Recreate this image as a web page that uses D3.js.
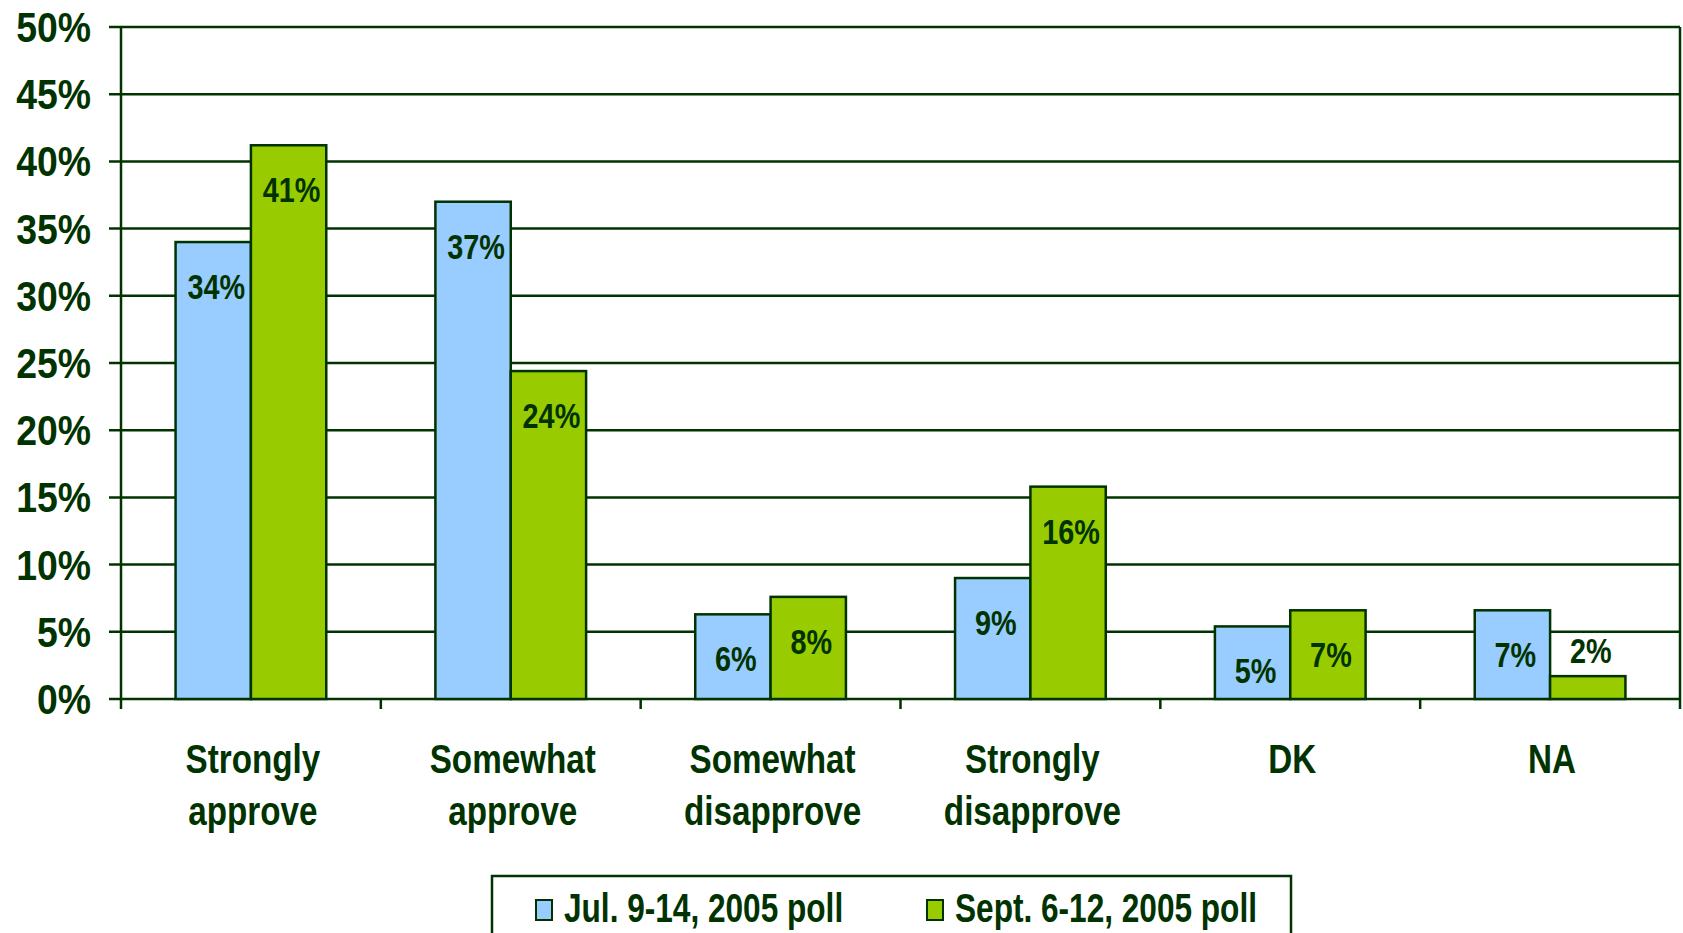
<!DOCTYPE html>
<html><head><meta charset="utf-8">
<script src="https://cdn.jsdelivr.net/npm/d3@7"></script>
<style>
html,body{margin:0;padding:0;background:#fff;}
svg{display:block;}
text{font-family:"Liberation Sans Narrow","Arial Narrow","Liberation Sans",sans-serif;font-weight:bold;fill:#003300;}
</style></head>
<body>
<svg id="chart" width="1683" height="933"></svg>
<script>
const categories = ["Strongly approve","Somewhat approve","Somewhat disapprove","Strongly disapprove","DK","NA"];
const seriesNames = ["Jul. 9-14, 2005 poll","Sept. 6-12, 2005 poll"];
const julValues = [34, 37, 6.3, 9, 5.4, 6.6];
const septValues = [41.2, 24.4, 7.6, 15.8, 6.6, 1.7];
const yTicks = [0,5,10,15,20,25,30,35,40,45,50];
const colors = ["#99CCFF","#99CC00"];

(function(){
const ink = "#003300";
const svg = d3.select("#chart");
const pl = 121, pr = 1680, pt = 27, pb = 699;

// condensed text helper
function ctext(parent, x, y, str, size, sx, anchor){
  const g = parent.append("g").attr("transform", `translate(${x},${y})`);
  g.append("text").attr("transform", `scale(${sx},1)`)
    .attr("text-anchor", anchor || "middle")
    .attr("font-size", size).text(str);
  return g;
}

const x = d3.scaleBand().domain(categories).range([pl,pr]).padding(0);
const y = d3.scaleLinear().domain([0,50]).range([pb, pt]);
const barW = x.bandwidth()*0.29;
const xs = d3.scaleBand().domain([0,1]).range([0, barW*2]);

svg.append("g").selectAll("line").data(yTicks).join("line")
  .attr("x1", pl-12).attr("x2", pr)
  .attr("y1", d=>y(d)).attr("y2", d=>y(d))
  .attr("stroke", ink).attr("stroke-width", 2.5);

svg.append("line").attr("x1",pl).attr("x2",pl).attr("y1",pt).attr("y2",pb+10).attr("stroke",ink).attr("stroke-width",2.5);
svg.append("line").attr("x1",pr).attr("x2",pr).attr("y1",pt).attr("y2",pb+10).attr("stroke",ink).attr("stroke-width",2.5);

svg.append("g").selectAll("line").data(categories.slice(1)).join("line")
  .attr("x1", d=>x(d)).attr("x2", d=>x(d))
  .attr("y1", pb).attr("y2", pb+10)
  .attr("stroke", ink).attr("stroke-width", 2.5);

const yl = svg.append("g");
yTicks.forEach(t=>ctext(yl, 91, y(t)+15, t+"%", 42, 0.89, "end"));

const data = categories.map((c,i)=>({c, v:[julValues[i], septValues[i]]}));

const groups = svg.append("g").selectAll("g").data(data).join("g")
  .attr("transform", d=>`translate(${x(d.c) + (x.bandwidth()-barW*2)/2},0)`);

groups.selectAll("rect").data(d=>d.v.map((v,k)=>({v,k}))).join("rect")
  .attr("x", d=>xs(d.k)).attr("width", xs.bandwidth())
  .attr("y", d=>y(d.v)).attr("height", d=>pb - y(d.v))
  .attr("fill", d=>colors[d.k]).attr("stroke", ink).attr("stroke-width", 2.5);

groups.each(function(d){
  const g = d3.select(this);
  d.v.forEach((v,k)=>{
    const yy = v < 3 ? y(v)-13 : y(v)+57;
    ctext(g, xs(k)+xs.bandwidth()/2+3, yy, Math.round(v)+"%", 36, 0.8, "middle");
  });
});

const cl = svg.append("g");
categories.forEach(c=>{
  c.split(" ").forEach((w,i)=>{
    ctext(cl, x(c)+x.bandwidth()/2+2, 773 + i*52, w, 41, 0.81, "middle");
  });
});

const lg = svg.append("g");
lg.append("rect").attr("x",492).attr("y",876).attr("width",799).attr("height",80)
  .attr("fill","none").attr("stroke",ink).attr("stroke-width",2.5);
const legendX = [536, 927];
seriesNames.forEach((s,i)=>{
  lg.append("rect").attr("x",legendX[i]).attr("y",900).attr("width",16).attr("height",20)
    .attr("fill",colors[i]).attr("stroke",ink).attr("stroke-width",2);
  ctext(lg, legendX[i]+28, 922, s, 40, 0.79, "start");
});
})();
</script>
</body></html>
